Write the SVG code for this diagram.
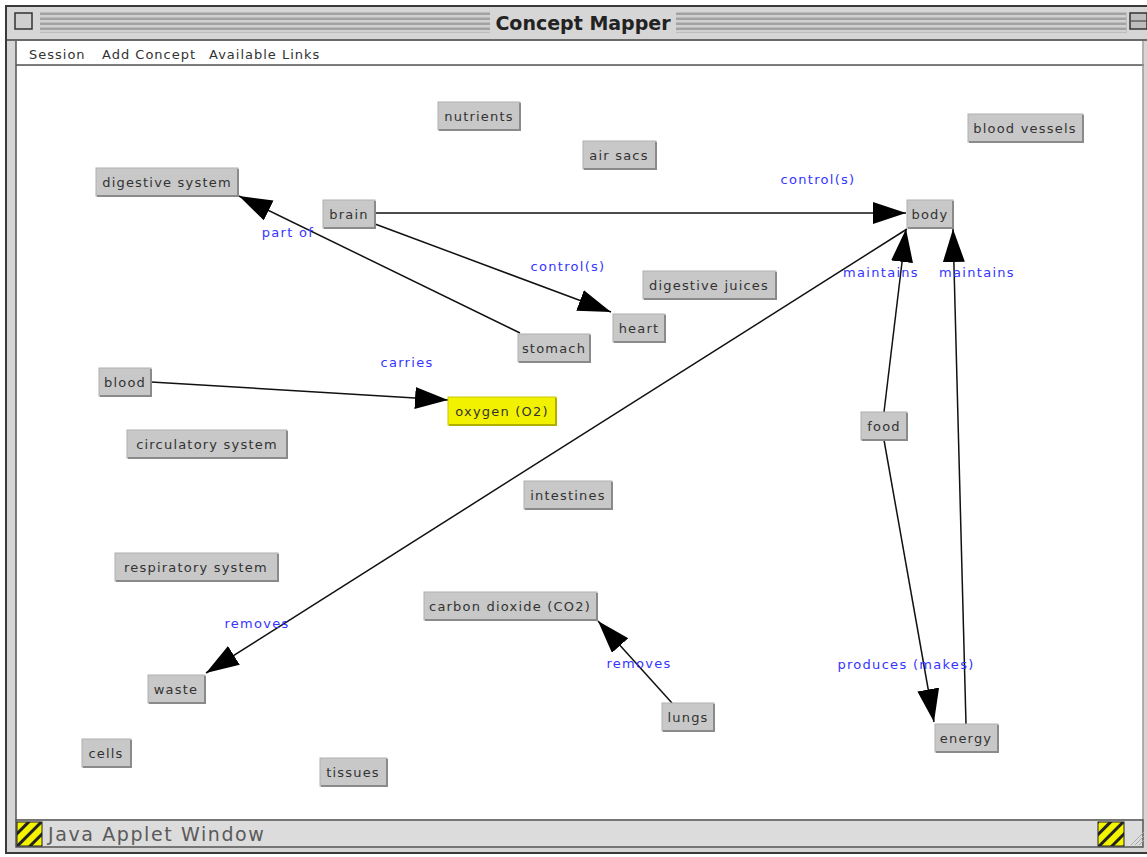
<svg xmlns="http://www.w3.org/2000/svg" width="1147" height="857" viewBox="0 0 1147 857">
<defs>
<style>
.frame{fill:#d6d6d6;stroke:#3a3a3a;stroke-width:2}
.band{fill:#bcbcbc}
.stripe{stroke:#9a9a9a;stroke-width:1.5}
.stripeL{stroke:#e6e6e6;stroke-width:1}
.menu{font-family:"DejaVu Sans",Verdana,sans-serif;font-size:13px;letter-spacing:1px;fill:#333}
.title{font-family:"DejaVu Sans",Verdana,sans-serif;font-size:19px;font-weight:bold;fill:#222}
.status{font-family:"DejaVu Sans",Verdana,sans-serif;font-size:19px;letter-spacing:1.6px;fill:#5a5a5a}
.node rect{fill:#c8c8c8;stroke:#b0b0b0;stroke-width:1}
.node polyline{fill:none;stroke:#8a8a8a;stroke-width:2}
.node text{font-family:"DejaVu Sans",Verdana,sans-serif;font-size:13px;letter-spacing:1.2px;fill:#333;text-anchor:middle}
.hl rect{fill:#f2f200;stroke:#c8c800}
.edge{stroke:#111;stroke-width:1.5;fill:none;marker-end:url(#ah)}
.lbl{font-family:"DejaVu Sans",Verdana,sans-serif;font-size:13px;letter-spacing:1.3px;fill:#3535ff;text-anchor:middle}
</style>
<marker id="ah" markerUnits="userSpaceOnUse" markerWidth="34" markerHeight="24" refX="33" refY="11" orient="auto">
<path d="M0,0 L33,11 L0,22 z" fill="#000"/>
</marker>
<pattern id="hatch" patternUnits="userSpaceOnUse" width="9" height="9" patternTransform="rotate(-45)">
<rect width="9" height="9" fill="#222"/>
<rect width="9" height="6" fill="#f4f400"/>
</pattern>
</defs>

<g id="window">
<rect class="frame" x="6" y="6" width="1146" height="847"/>
<g id="titlebar">
<rect class="band" x="40" y="12" width="1087" height="21"/>
<line class="stripe" x1="40" y1="14" x2="1126" y2="14"/>
<line class="stripe" x1="40" y1="19" x2="1126" y2="19"/>
<line class="stripe" x1="40" y1="24" x2="1126" y2="24"/>
<line class="stripe" x1="40" y1="29" x2="1126" y2="29"/>
<line class="stripeL" x1="40" y1="16" x2="1126" y2="16"/>
<line class="stripeL" x1="40" y1="21" x2="1126" y2="21"/>
<line class="stripeL" x1="40" y1="26" x2="1126" y2="26"/>
<line class="stripeL" x1="40" y1="31" x2="1126" y2="31"/>
<rect x="490" y="9" width="186" height="28" fill="#d6d6d6"/>
<text class="title" x="583" y="30" text-anchor="middle">Concept Mapper</text>
<rect x="15" y="13" width="17" height="16" fill="#cfcfcf" stroke="#333" stroke-width="1.5"/>
<rect x="1130" y="13" width="17" height="16" fill="#bdbdbd" stroke="#333" stroke-width="1.5"/>
<line x1="1131" y1="21" x2="1147" y2="21" stroke="#333" stroke-width="1"/>
</g>
<line x1="6" y1="40" x2="1147" y2="40" stroke="#444" stroke-width="1.5"/>
<rect x="16" y="41" width="1128" height="24" fill="#ffffff"/>
<line x1="16" y1="65" x2="1144" y2="65" stroke="#555" stroke-width="1.5"/>
<text class="menu" x="29" y="59">Session</text>
<text class="menu" x="102" y="59">Add Concept</text>
<text class="menu" x="209" y="59">Available Links</text>
<rect x="16" y="66" width="1127" height="753" fill="#ffffff"/>
<line x1="16" y1="41" x2="16" y2="820" stroke="#555" stroke-width="1.5"/>
<line x1="1143" y1="41" x2="1143" y2="820" stroke="#999" stroke-width="1.5"/>
<rect x="16" y="820" width="1127" height="27" fill="#dcdcdc" stroke="#555" stroke-width="1.5"/>
<rect x="17" y="822" width="25" height="24" fill="url(#hatch)" stroke="#222" stroke-width="1"/>
<text class="status" x="48" y="841">Java Applet Window</text>
<rect x="1098" y="822" width="26" height="24" fill="url(#hatch)" stroke="#222" stroke-width="1"/>
<g stroke="#aaa" stroke-width="1">
<line x1="1131" y1="845" x2="1144" y2="832"/>
<line x1="1135" y1="845" x2="1144" y2="836"/>
<line x1="1139" y1="845" x2="1144" y2="840"/>
</g>
</g>

<g id="connectors">
<line class="edge" x1="375" y1="213" x2="906" y2="213"/>
<line class="edge" x1="375" y1="224" x2="611" y2="312"/>
<line class="edge" x1="520" y1="333" x2="239" y2="196"/>
<line class="edge" x1="151" y1="382" x2="448" y2="400"/>
<line class="edge" x1="907" y1="229" x2="206" y2="673"/>
<line class="edge" x1="884" y1="412" x2="906" y2="229"/>
<line class="edge" x1="966" y1="724" x2="953" y2="229"/>
<line class="edge" x1="884" y1="440" x2="934" y2="722"/>
<line class="edge" x1="672" y1="703" x2="598" y2="621"/>
<text class="lbl" x="818" y="184">control(s)</text>
<text class="lbl" x="568" y="271">control(s)</text>
<text class="lbl" x="288" y="237">part of</text>
<text class="lbl" x="407" y="367">carries</text>
<text class="lbl" x="257" y="628">removes</text>
<text class="lbl" x="881" y="277">maintains</text>
<text class="lbl" x="977" y="277">maintains</text>
<text class="lbl" x="906" y="669">produces (makes)</text>
<text class="lbl" x="639" y="668">removes</text>
</g>

<g id="nodes">
<g id="n-nutrients" class="node"><rect x="438" y="102" width="82" height="28"/><polyline points="439,130 520,130 520,103"/><text x="479" y="121">nutrients</text></g>
<g id="n-airsacs" class="node"><rect x="583" y="141" width="73" height="28"/><polyline points="584,169 656,169 656,142"/><text x="619" y="160">air sacs</text></g>
<g id="n-bloodvessels" class="node"><rect x="968" y="114" width="115" height="28"/><polyline points="969,142 1083,142 1083,115"/><text x="1025" y="133">blood vessels</text></g>
<g id="n-digestive" class="node"><rect x="96" y="168" width="142" height="28"/><polyline points="97,196 238,196 238,169"/><text x="167" y="187">digestive system</text></g>
<g id="n-brain" class="node"><rect x="323" y="200" width="52" height="28"/><polyline points="324,228 375,228 375,201"/><text x="349" y="219">brain</text></g>
<g id="n-body" class="node"><rect x="907" y="200" width="46" height="28"/><polyline points="908,228 953,228 953,201"/><text x="930" y="219">body</text></g>
<g id="n-juices" class="node"><rect x="643" y="271" width="133" height="28"/><polyline points="644,299 776,299 776,272"/><text x="709" y="290">digestive juices</text></g>
<g id="n-heart" class="node"><rect x="613" y="314" width="52" height="28"/><polyline points="614,342 665,342 665,315"/><text x="639" y="333">heart</text></g>
<g id="n-stomach" class="node"><rect x="518" y="334" width="72" height="28"/><polyline points="519,362 590,362 590,335"/><text x="554" y="353">stomach</text></g>
<g id="n-blood" class="node"><rect x="99" y="368" width="52" height="28"/><polyline points="100,396 151,396 151,369"/><text x="125" y="387">blood</text></g>
<g id="n-oxygen" class="node hl"><rect x="448" y="397" width="108" height="28"/><polyline points="449,425 556,425 556,398" style="stroke:#b0b000"/><text x="502" y="416">oxygen (O2)</text></g>
<g id="n-circulatory" class="node"><rect x="127" y="430" width="160" height="28"/><polyline points="128,458 287,458 287,431"/><text x="207" y="449">circulatory system</text></g>
<g id="n-food" class="node"><rect x="861" y="412" width="46" height="28"/><polyline points="862,440 907,440 907,413"/><text x="884" y="431">food</text></g>
<g id="n-intestines" class="node"><rect x="524" y="481" width="88" height="28"/><polyline points="525,509 612,509 612,482"/><text x="568" y="500">intestines</text></g>
<g id="n-respiratory" class="node"><rect x="115" y="553" width="163" height="28"/><polyline points="116,581 278,581 278,554"/><text x="196" y="572">respiratory system</text></g>
<g id="n-co2" class="node"><rect x="424" y="592" width="173" height="28"/><polyline points="425,620 597,620 597,593"/><text x="510" y="611">carbon dioxide (CO2)</text></g>
<g id="n-waste" class="node"><rect x="148" y="675" width="57" height="28"/><polyline points="149,703 205,703 205,676"/><text x="176" y="694">waste</text></g>
<g id="n-lungs" class="node"><rect x="662" y="703" width="52" height="28"/><polyline points="663,731 714,731 714,704"/><text x="688" y="722">lungs</text></g>
<g id="n-energy" class="node"><rect x="935" y="724" width="63" height="28"/><polyline points="936,752 998,752 998,725"/><text x="966" y="743">energy</text></g>
<g id="n-cells" class="node"><rect x="82" y="739" width="49" height="28"/><polyline points="83,767 131,767 131,740"/><text x="106" y="758">cells</text></g>
<g id="n-tissues" class="node"><rect x="320" y="758" width="67" height="28"/><polyline points="321,786 387,786 387,759"/><text x="353" y="777">tissues</text></g>
</g>
</svg>
